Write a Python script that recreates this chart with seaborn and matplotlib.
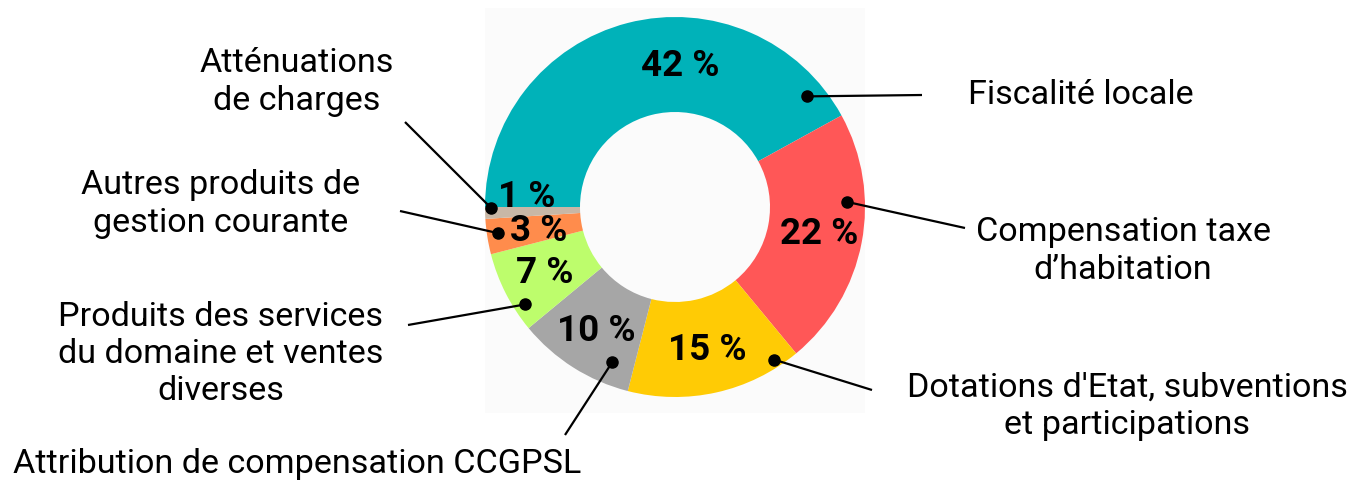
import numpy as np
import matplotlib
matplotlib.use("Agg")
import matplotlib.pyplot as plt
import seaborn as sns
from matplotlib import font_manager
from matplotlib.patches import Rectangle

# ---------------- data ----------------
categories = [
    "Fiscalité locale",
    "Compensation taxe\nd\u2019habitation",
    "Dotations d'Etat, subventions\net participations",
    "Attribution de compensation CCGPSL",
    "Produits des services\ndu domaine et ventes\ndiverses",
    "Autres produits de\ngestion courante",
    "Atténuations\nde charges",
]
values = [42, 22, 15, 10, 7, 3, 1]
colors = ["#00b2b9", "#ff5757", "#ffcb05", "#a6a6a6", "#bdfd6c", "#ff8c4c", "#c8b7a6"]

# ---------------- layout (pixel space, y measured from top) ----------------
W, H = 1358, 482
CX, CY, R = 675, 207, 190
RING = 95
# dot anchor: (fraction along wedge from its lower angle, radius fraction)
dot_layout = [(0.074, 0.906), (0.658, 0.905), (0.878, 0.958), (0.789, 0.879),
              (0.738, 0.942), (0.444, 0.942), (0.083, 0.968)]
line_ends = [(922, 95), (965, 228), (872, 390), (565, 435), (408, 325), (400, 211), (405, 122)]
text_pos = [(1081, 95), (1123, 251), (1127, 406), (297, 464), (221, 354), (221, 204), (297, 82)]

sns.set_theme(style="white")
names = {f.name for f in font_manager.fontManager.ttflist}
label_font = next((f for f in ["Roboto", "Open Sans", "DejaVu Sans"] if f in names), "DejaVu Sans")
plt.rcParams["font.family"] = [label_font, "DejaVu Sans"]

fig = plt.figure(figsize=(W / 100, H / 100), dpi=100)
fig.patch.set_facecolor("white")
ax = fig.add_axes([0, 0, 1, 1])

def P(x, y):
    return x, H - y

# faint backdrop of the pasted chart image
ax.add_patch(Rectangle(P(485, 413), 380, 405, facecolor="#fbfbfb", edgecolor="none", zorder=0))

wedges, _, autotexts = ax.pie(
    values, colors=colors, startangle=180, counterclock=False,
    radius=R, center=P(CX, CY),
    wedgeprops=dict(width=RING, linewidth=0),
    autopct=lambda p: f"{round(p):d} %", pctdistance=0.77,
    textprops=dict(fontsize=26.5, fontweight="bold", color="black", family=[label_font, "DejaVu Sans"]),
)

def polar(angle_deg, r):
    cx, cy = P(CX, CY)
    a = np.deg2rad(angle_deg)
    return cx + r * np.cos(a), cy + r * np.sin(a)

# reposition a few percentage labels like the reference
autotexts[0].set_position(polar(88, 0.74 * R))
autotexts[6].set_position(polar(176, 0.78 * R))
autotexts[5].set_position(polar(-170, 0.73 * R))

for w, (f, rf), le, tp, lab in zip(wedges, dot_layout, line_ends, text_pos, categories):
    ang = w.theta1 + f * (w.theta2 - w.theta1)
    dx, dy = polar(ang, rf * R)
    ex, ey = P(*le)
    ax.plot([dx, ex], [dy, ey], color="black", lw=1.6, zorder=5, solid_capstyle="butt")
    ax.plot([dx], [dy], marker="o", ms=8, color="black", zorder=6)
    tx, ty = P(*tp)
    ax.text(tx, ty, lab, ha="center", va="center", multialignment="center",
            fontsize=24.6, color="black", linespacing=1.22, zorder=7)

ax.set_xlim(0, W)
ax.set_ylim(0, H)
ax.set_aspect("equal")
ax.axis("off")

fig.savefig("out.png", dpi=100, facecolor="white")
